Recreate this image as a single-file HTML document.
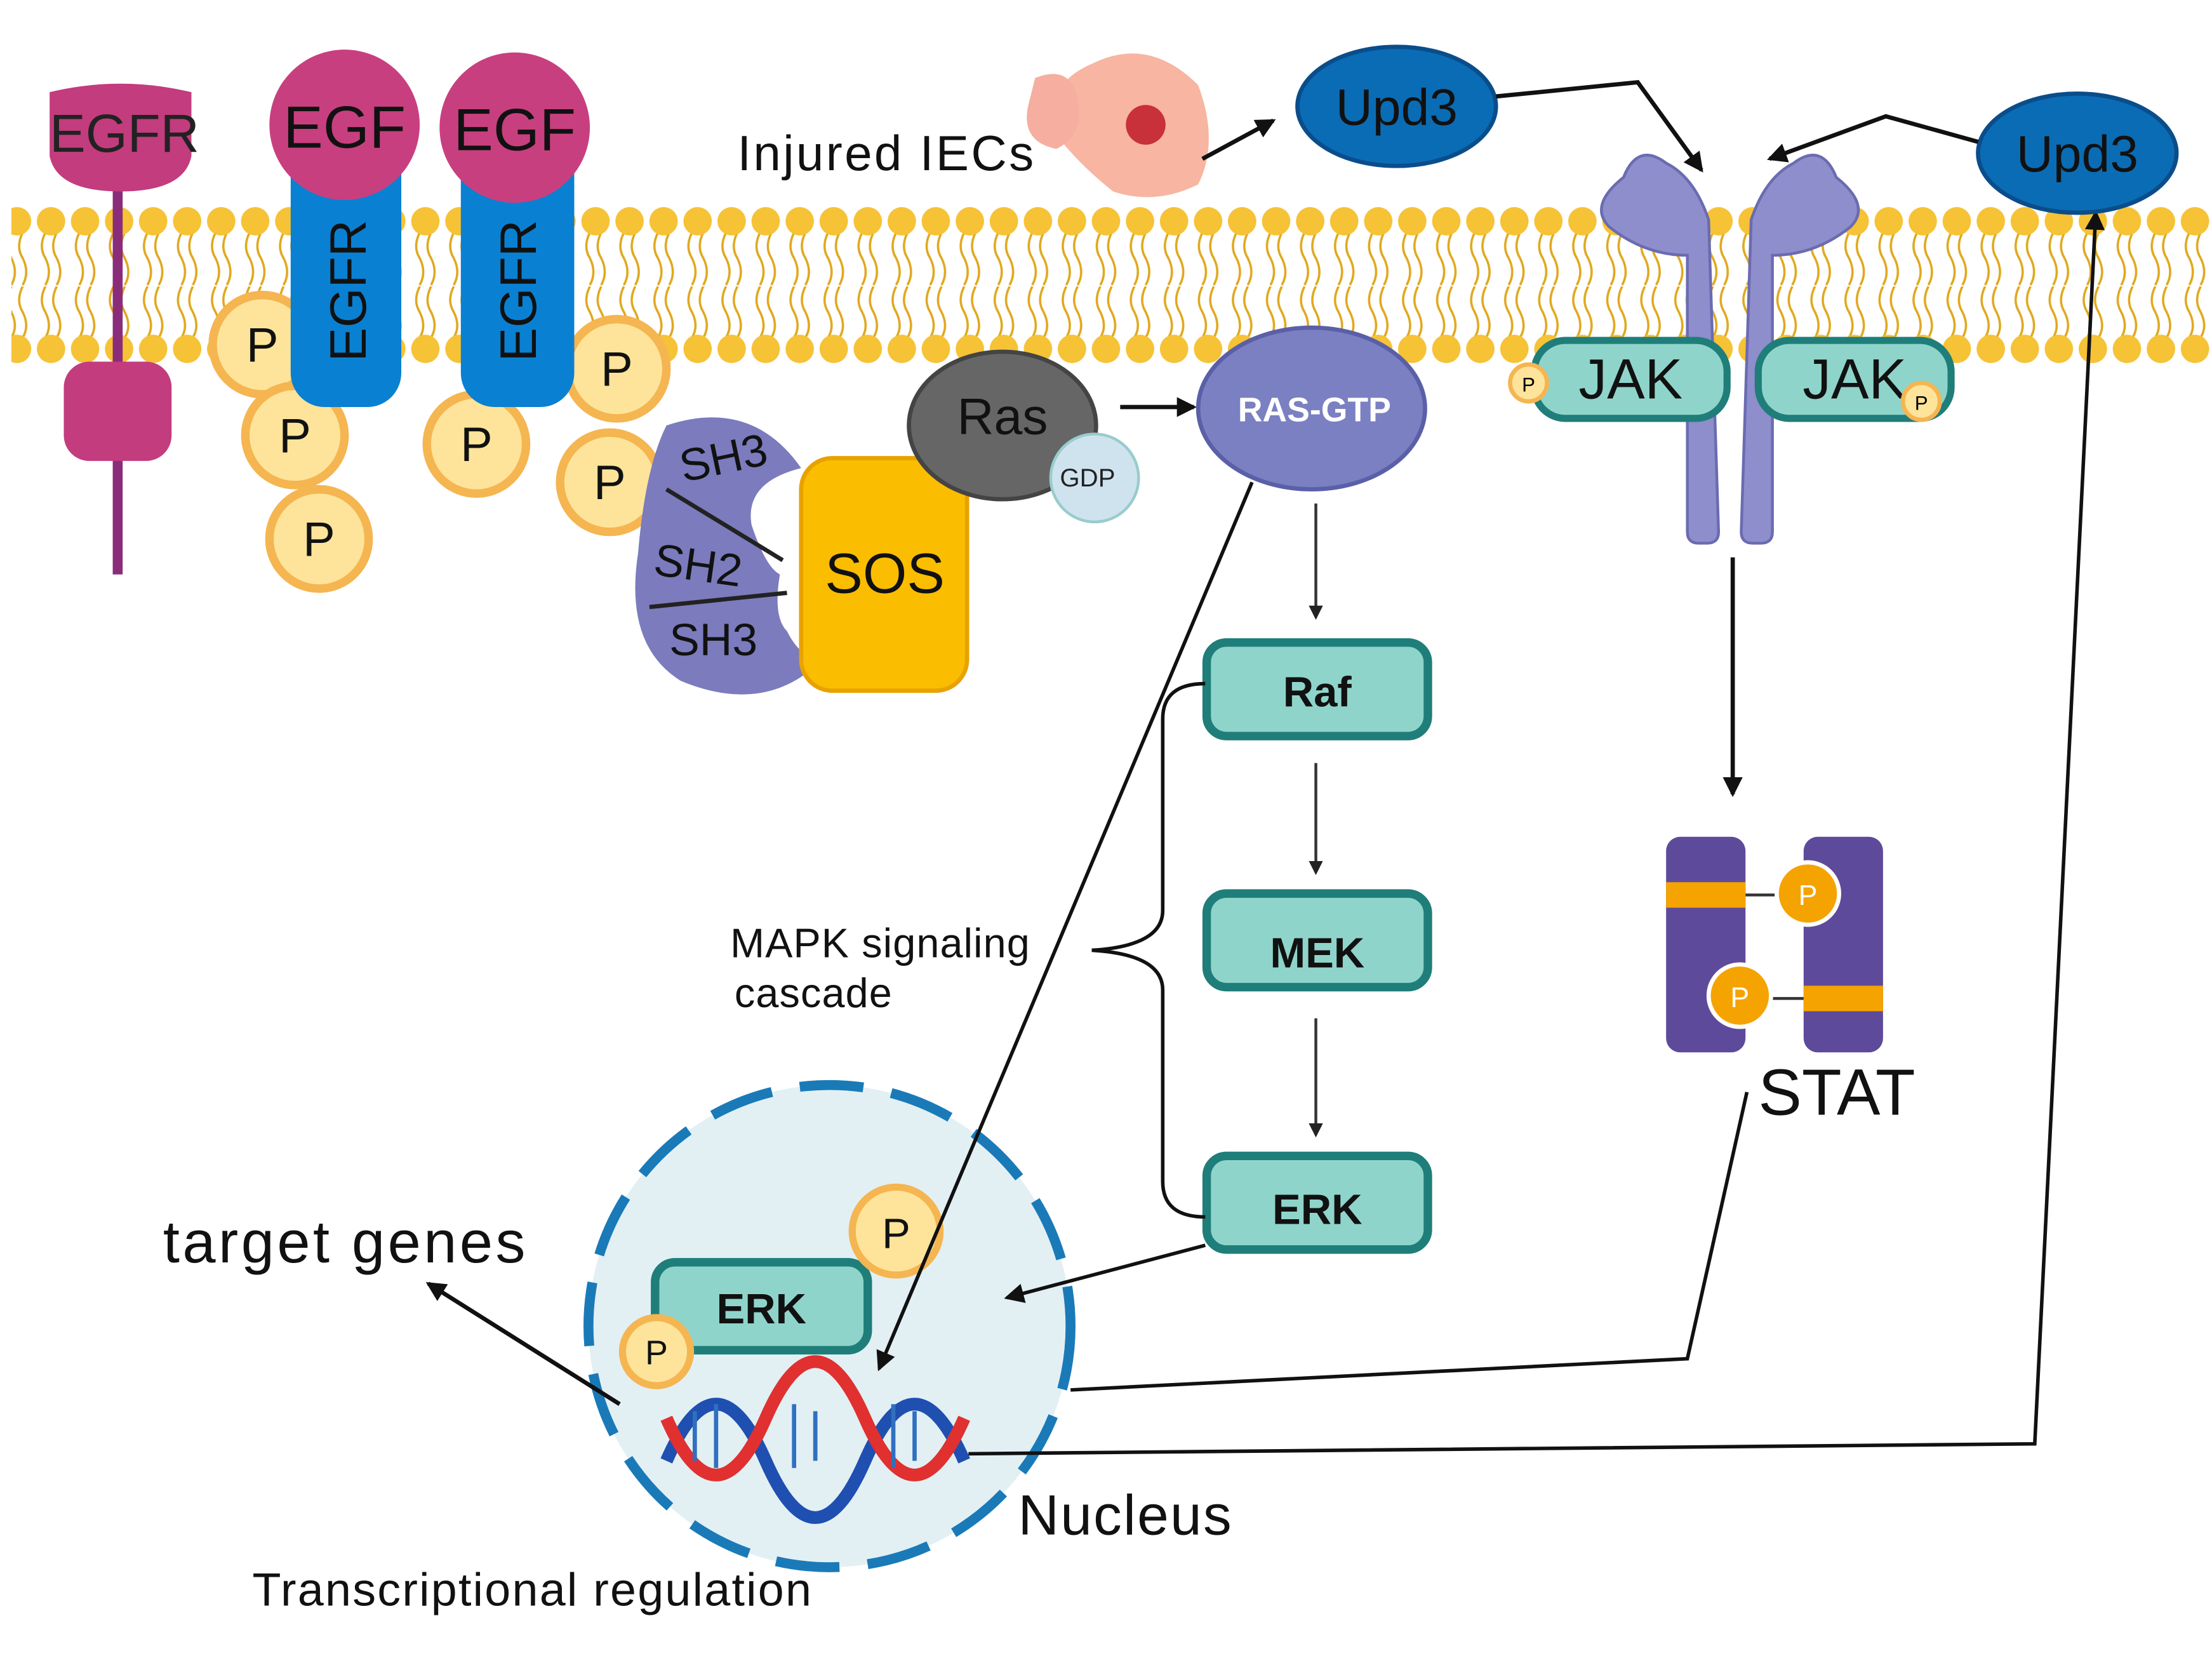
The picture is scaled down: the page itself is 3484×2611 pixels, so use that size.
<!DOCTYPE html>
<html><head><meta charset="utf-8"><style>
html,body{margin:0;padding:0;background:#fff;}
svg{display:block;}
text{font-family:"Liberation Sans",sans-serif;}
</style></head><body>
<svg width="3484" height="2611" viewBox="0 0 1560 1169" preserveAspectRatio="none" xmlns="http://www.w3.org/2000/svg">
<defs>
<marker id="ah" markerWidth="10" markerHeight="10" refX="8" refY="5" orient="auto" markerUnits="userSpaceOnUse"><path d="M0,0 L10,5 L0,10 z" fill="#222"/></marker>
<marker id="ahs" markerWidth="14" markerHeight="14" refX="12" refY="7" orient="auto" markerUnits="userSpaceOnUse"><path d="M0,0 L14,7 L0,14 z" fill="#111"/></marker>
<pattern id="lip" x="0" y="146" width="24" height="110" patternUnits="userSpaceOnUse">
<path d="M8,18 q-5,10 0,18 q5,10 0,19 M16,18 q-5,10 0,18 q5,10 0,19" stroke="#e0a81e" stroke-width="1.6" fill="none"/>
<path d="M8,56 q-5,10 0,18 q5,10 0,18 M16,56 q-5,10 0,18 q5,10 0,18" stroke="#e0a81e" stroke-width="1.6" fill="none"/>
<circle cx="12" cy="10" r="10" fill="#f6c236"/>
<circle cx="12" cy="100" r="10" fill="#f6c236"/>
</pattern>
</defs>
<rect width="1560" height="1169" fill="#fff"/>
<!-- membrane -->
<rect x="8" y="146" width="1552" height="110" fill="url(#lip)"/>

<!-- left EGFR -->
<line x1="83" y1="120" x2="83" y2="405" stroke="#8b2c7a" stroke-width="7"/>
<path d="M35,65 q50,-12 100,0 l0,45 q-5,25 -50,25 q-45,0 -50,-25 z" fill="#c23c7e"/>
<rect x="45" y="255" width="76" height="70" rx="18" fill="#c23c7e"/>
<text x="35" y="107" font-size="38" fill="#222">EGFR</text>

<!-- P circles left -->
<g fill="#fde49a" stroke="#f5b550" stroke-width="6">
<circle cx="185" cy="243" r="35"/><circle cx="208" cy="307" r="35"/><circle cx="225" cy="380" r="35"/>
<circle cx="336" cy="313" r="35"/><circle cx="435" cy="260" r="35"/><circle cx="430" cy="340" r="35"/>
</g>
<g font-size="34" fill="#111" text-anchor="middle">
<text x="185" y="255">P</text><text x="208" y="319">P</text><text x="225" y="392">P</text>
<text x="336" y="325">P</text><text x="435" y="272">P</text><text x="430" y="352">P</text>
</g>
<!-- EGFR blue -->
<rect x="205" y="95" width="78" height="192" rx="24" fill="#0a80d2"/>
<rect x="325" y="95" width="80" height="192" rx="24" fill="#0a80d2"/>
<text transform="translate(258,255) rotate(-90)" font-size="36" fill="#111">EGFR</text>
<text transform="translate(378,255) rotate(-90)" font-size="36" fill="#111">EGFR</text>
<circle cx="243" cy="88" r="53" fill="#c83f7f"/>
<circle cx="363" cy="90" r="53" fill="#c83f7f"/>
<text x="243" y="104" font-size="42" fill="#111" text-anchor="middle">EGF</text>
<text x="363" y="106" font-size="42" fill="#111" text-anchor="middle">EGF</text>

<!-- SH domains -->
<path d="M470,300 q60,-20 95,30 q-40,10 -35,40 q10,30 20,35 q-5,30 5,40 q10,20 25,20 q-40,40 -100,15 q-40,-25 -30,-90 q5,-60 20,-90 z" fill="#7b7bbd"/>
<path d="M470,345 L552,395 M458,428 L555,418" stroke="#222" stroke-width="3"/>
<text x="482" y="340" font-size="32" fill="#111" transform="rotate(-12 482 340)">SH3</text>
<text x="460" y="405" font-size="32" fill="#111" transform="rotate(8 460 405)">SH2</text>
<text x="472" y="462" font-size="32" fill="#111">SH3</text>
<rect x="565" y="323" width="117" height="164" rx="22" fill="#fbbd00" stroke="#e8a200" stroke-width="3"/>
<text x="624" y="418" font-size="40" fill="#111" text-anchor="middle">SOS</text>

<!-- Ras -->
<ellipse cx="707" cy="300" rx="66" ry="52" fill="#666" stroke="#444" stroke-width="3"/>
<text x="707" y="306" font-size="36" fill="#111" text-anchor="middle">Ras</text>
<circle cx="772" cy="337" r="31" fill="#cfe3ef" stroke="#9cc" stroke-width="2"/>
<text x="767" y="343" font-size="18" fill="#222" text-anchor="middle">GDP</text>
<line x1="790" y1="287" x2="842" y2="287" stroke="#111" stroke-width="3" marker-end="url(#ahs)"/>
<ellipse cx="925" cy="288" rx="80" ry="57" fill="#7b80c2" stroke="#5a5fa8" stroke-width="3"/>
<text x="927" y="297" font-size="24" font-weight="bold" fill="#fff" text-anchor="middle">RAS-GTP</text>

<!-- cascade -->
<g fill="#8fd4ca" stroke="#1f7e79" stroke-width="6">
<rect x="851" y="453" width="156" height="66" rx="14"/>
<rect x="851" y="630" width="156" height="66" rx="14"/>
<rect x="851" y="815" width="156" height="66" rx="14"/>
</g>
<g font-size="30" font-weight="bold" fill="#111" text-anchor="middle">
<text x="929" y="498">Raf</text><text x="929" y="682">MEK</text><text x="929" y="863">ERK</text>
</g>
<g stroke="#333" stroke-width="2" marker-end="url(#ah)">
<line x1="928" y1="355" x2="928" y2="435"/>
<line x1="928" y1="538" x2="928" y2="615"/>
<line x1="928" y1="718" x2="928" y2="800"/>
</g>
<path d="M850,482 q-30,0 -30,25 l0,135 q0,25 -50,28 q50,3 50,28 l0,135 q0,25 30,25" fill="none" stroke="#111" stroke-width="2.5"/>
<text x="515" y="675" font-size="29" fill="#111" letter-spacing="0.5">MAPK signaling</text>
<text x="518" y="710" font-size="29" fill="#111" letter-spacing="0.5">cascade</text>

<!-- nucleus -->
<circle cx="585" cy="935" r="170" fill="#e2f0f4" stroke="#1a7ab8" stroke-width="7" stroke-dasharray="45,20"/>
<rect x="462" y="890" width="150" height="62" rx="14" fill="#8fd4ca" stroke="#1f7e79" stroke-width="6"/>
<text x="537" y="933" font-size="30" font-weight="bold" fill="#111" text-anchor="middle">ERK</text>
<circle cx="632" cy="868" r="31" fill="#fde49a" stroke="#f5b550" stroke-width="5"/>
<text x="632" y="880" font-size="30" fill="#111" text-anchor="middle">P</text>
<circle cx="463" cy="953" r="24" fill="#fde49a" stroke="#f5b550" stroke-width="5"/>
<text x="463" y="962" font-size="24" fill="#111" text-anchor="middle">P</text>
<!-- DNA -->
<g fill="none" stroke-width="9">
<path d="M470,1030 q35,-80 70,0 q35,80 70,0 q35,-80 70,0" stroke="#1f4fb0"/>
<path d="M470,1000 q35,80 70,0 q35,-80 70,0 q35,80 70,0" stroke="#e03030"/>
</g>
<g stroke="#3070c0" stroke-width="3">
<line x1="490" y1="995" x2="490" y2="1030"/><line x1="505" y1="990" x2="505" y2="1035"/><line x1="560" y1="990" x2="560" y2="1035"/><line x1="575" y1="995" x2="575" y2="1030"/><line x1="630" y1="990" x2="630" y2="1035"/><line x1="645" y1="995" x2="645" y2="1030"/>
</g>
<text x="115" y="890" font-size="42" fill="#111" letter-spacing="2">target genes</text>
<line x1="437" y1="990" x2="302" y2="905" stroke="#111" stroke-width="3" marker-end="url(#ahs)"/>
<text x="718" y="1082" font-size="40" fill="#111" letter-spacing="1">Nucleus</text>
<text x="178" y="1132" font-size="33" fill="#111" letter-spacing="1">Transcriptional regulation</text>

<!-- arrows to nucleus -->
<line x1="883" y1="340" x2="620" y2="965" stroke="#111" stroke-width="2.5" marker-end="url(#ahs)"/>
<line x1="850" y1="878" x2="710" y2="915" stroke="#111" stroke-width="2.5" marker-end="url(#ahs)"/>
<polyline points="755,980 1190,958 1232,770" fill="none" stroke="#111" stroke-width="2.5"/>
<polyline points="683,1025 1435,1018 1478,150" fill="none" stroke="#111" stroke-width="2.5" marker-end="url(#ahs)"/>

<!-- injured IECs -->
<text x="520" y="120" font-size="35" fill="#111" letter-spacing="1.5">Injured IECs</text>
<path d="M770,45 q40,-20 75,15 q15,40 0,70 q-30,15 -60,5 q-25,-20 -40,-40 q-10,-35 25,-50 z" fill="#f7b5a2"/>
<path d="M730,55 q25,-10 30,15 q5,25 -15,35 q-25,-5 -20,-30 z" fill="#f5aea0"/>
<circle cx="808" cy="88" r="14" fill="#c8303a"/>
<line x1="848" y1="112" x2="898" y2="85" stroke="#111" stroke-width="3" marker-end="url(#ahs)"/>

<!-- Upd3 -->
<ellipse cx="985" cy="75" rx="70" ry="42" fill="#0a6cb5" stroke="#0a4d8a" stroke-width="3"/>
<text x="985" y="88" font-size="36" fill="#111" text-anchor="middle">Upd3</text>
<ellipse cx="1465" cy="108" rx="70" ry="42" fill="#0a6cb5" stroke="#0a4d8a" stroke-width="3"/>
<text x="1465" y="121" font-size="36" fill="#111" text-anchor="middle">Upd3</text>
<polyline points="1055,68 1155,58 1200,120" fill="none" stroke="#111" stroke-width="3" marker-end="url(#ahs)"/>
<polyline points="1395,100 1330,82 1248,112" fill="none" stroke="#111" stroke-width="3" marker-end="url(#ahs)"/>

<!-- receptor -->
<path d="M1205,155 q-10,-30 -30,-40 q-20,-15 -30,10 q-25,20 -10,35 q25,20 55,20 l0,195 q0,8 8,8 l6,0 q8,0 8,-8 z" fill="#8d8ecb" stroke="#6a6bb0" stroke-width="2"/>
<path d="M1235,155 q10,-30 30,-40 q20,-15 30,10 q25,20 10,35 q-25,20 -55,20 l0,195 q0,8 -8,8 l-6,0 q-8,0 -8,-8 z" fill="#8d8ecb" stroke="#6a6bb0" stroke-width="2"/>
<g fill="#8fd4ca" stroke="#1f7e79" stroke-width="5">
<rect x="1082" y="240" width="136" height="55" rx="22"/>
<rect x="1240" y="240" width="136" height="55" rx="22"/>
</g>
<text x="1150" y="281" font-size="40" fill="#111" text-anchor="middle">JAK</text>
<text x="1308" y="281" font-size="40" fill="#111" text-anchor="middle">JAK</text>
<circle cx="1078" cy="270" r="13" fill="#fde49a" stroke="#f5b550" stroke-width="3"/>
<text x="1078" y="276" font-size="14" text-anchor="middle">P</text>
<circle cx="1355" cy="283" r="13" fill="#fde49a" stroke="#f5b550" stroke-width="3"/>
<text x="1355" y="289" font-size="14" text-anchor="middle">P</text>
<line x1="1222" y1="393" x2="1222" y2="560" stroke="#111" stroke-width="3" marker-end="url(#ahs)"/>

<!-- STAT -->
<rect x="1175" y="590" width="56" height="152" rx="10" fill="#5e4a9a"/>
<rect x="1272" y="590" width="56" height="152" rx="10" fill="#5e4a9a"/>
<rect x="1175" y="622" width="56" height="18" fill="#f5a300"/>
<rect x="1272" y="695" width="56" height="18" fill="#f5a300"/>
<line x1="1231" y1="631" x2="1255" y2="631" stroke="#333" stroke-width="2"/>
<line x1="1245" y1="704" x2="1272" y2="704" stroke="#333" stroke-width="2"/>
<circle cx="1275" cy="630" r="22" fill="#f5a300" stroke="#fff" stroke-width="3"/>
<text x="1275" y="638" font-size="20" fill="#fff" text-anchor="middle">P</text>
<circle cx="1227" cy="702" r="22" fill="#f5a300" stroke="#fff" stroke-width="3"/>
<text x="1227" y="710" font-size="20" fill="#fff" text-anchor="middle">P</text>
<text x="1240" y="786" font-size="46" fill="#111">STAT</text>
</svg>
</body></html>
